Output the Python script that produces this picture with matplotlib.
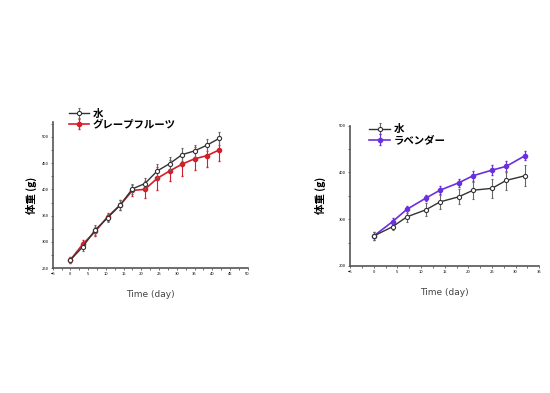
import numpy as np
import matplotlib
matplotlib.use('Agg')
import matplotlib.pyplot as plt
from matplotlib.ticker import MultipleLocator

plt.rcParams['font.family'] = ['Noto Sans CJK JP', 'DejaVu Sans']

# left panel: water vs grapefruit
days_a = [0, 3.5, 7, 10.5, 14, 17.5, 21, 24.5, 28, 31.5, 35, 38.5, 42]
water_a = [266, 291, 323, 346, 370, 401, 411, 435, 449, 466, 473, 484, 497]
water_a_err = [5, 8, 10, 8, 10, 10, 10, 14, 12, 13, 12, 12, 12]
grape = [266, 296, 320, 348, 370, 398, 400, 421, 435, 448, 458, 464, 475]
grape_err = [5, 7, 8, 8, 9, 10, 16, 22, 20, 22, 22, 22, 22]

# right panel: water vs lavender
days_b = [0, 4, 7, 11, 14, 18, 21, 25, 28, 32]
water_b = [264, 284, 305, 320, 337, 348, 362, 366, 383, 393]
water_b_err = [8, 8, 12, 14, 15, 16, 18, 20, 20, 22]
lavender = [264, 295, 321, 345, 362, 378, 393, 405, 413, 436]
lavender_err = [8, 7, 8, 7, 9, 9, 11, 11, 12, 10]

red = '#d21f2b'
purple = '#6a2fe0'
dark = '#333333'

fig = plt.figure(figsize=(5.5, 3.93), dpi=100)
ax1 = fig.add_axes([0.0958, 0.3173, 0.3546, 0.3723])
ax2 = fig.add_axes([0.6364, 0.3232, 0.3442, 0.357])


def style(ax, xlim, ylim, xstep, ystep, ypad):
    ax.set_xlim(*xlim)
    ax.set_ylim(*ylim)
    ax.spines['right'].set_color('none')
    ax.spines['top'].set_color('none')
    ax.spines['left'].set_color('#555555')
    ax.spines['bottom'].set_color('#555555')
    ax.spines['left'].set_linewidth(1.2)
    ax.spines['bottom'].set_linewidth(1.2)
    ax.xaxis.set_major_locator(MultipleLocator(xstep))
    ax.xaxis.set_minor_locator(MultipleLocator(xstep / 2))
    ax.yaxis.set_major_locator(MultipleLocator(ystep))
    ax.yaxis.set_minor_locator(MultipleLocator(ystep / 2))
    ax.tick_params(which='both', labelsize=3, length=1.5, width=0.6,
                   color='#555555', pad=1.5)
    ax.set_xlabel('Time (day)', fontsize=6.5, color='#444444',
                  family=['DejaVu Sans'], labelpad=10)
    ax.set_ylabel('体重 (g)', fontsize=7.5, fontweight='bold', labelpad=ypad)


leg_font = {'size': 7.5, 'weight': 'bold'}

# left
ax1.errorbar(days_a, water_a, yerr=water_a_err, color=dark, ecolor='#666666',
             lw=1, elinewidth=0.8, capsize=1, marker='o', ms=3,
             mfc='white', mec=dark, mew=0.8, label='水', zorder=3)
ax1.errorbar(days_a, grape, yerr=grape_err, color=red, ecolor=red,
             lw=1.2, elinewidth=0.8, capsize=1, marker='o', ms=3,
             mfc=red, mec=red, label='グレープフルーツ', zorder=2)
style(ax1, (-5, 50), (250, 528), 5, 50, 3)
ax1.legend(loc='upper left', bbox_to_anchor=(0.06, 1.12), frameon=False,
           prop=leg_font, handlelength=2.0, handletextpad=0.3,
           labelspacing=0.1, borderaxespad=0)

# right
ax2.errorbar(days_b, water_b, yerr=water_b_err, color=dark, ecolor='#666666',
             lw=1, elinewidth=0.8, capsize=1, marker='o', ms=3,
             mfc='white', mec=dark, mew=0.8, label='水', zorder=3)
ax2.errorbar(days_b, lavender, yerr=lavender_err, color=purple, ecolor=purple,
             lw=1.2, elinewidth=0.8, capsize=1, marker='o', ms=3,
             mfc=purple, mec=purple, label='ラベンダー', zorder=2)
style(ax2, (-5, 35), (200, 500), 5, 100, 9)
ax2.legend(loc='upper left', bbox_to_anchor=(0.08, 1.04), frameon=False,
           prop=leg_font, handlelength=2.0, handletextpad=0.3,
           labelspacing=0.1, borderaxespad=0)

fig.savefig('out.png', dpi=100)
